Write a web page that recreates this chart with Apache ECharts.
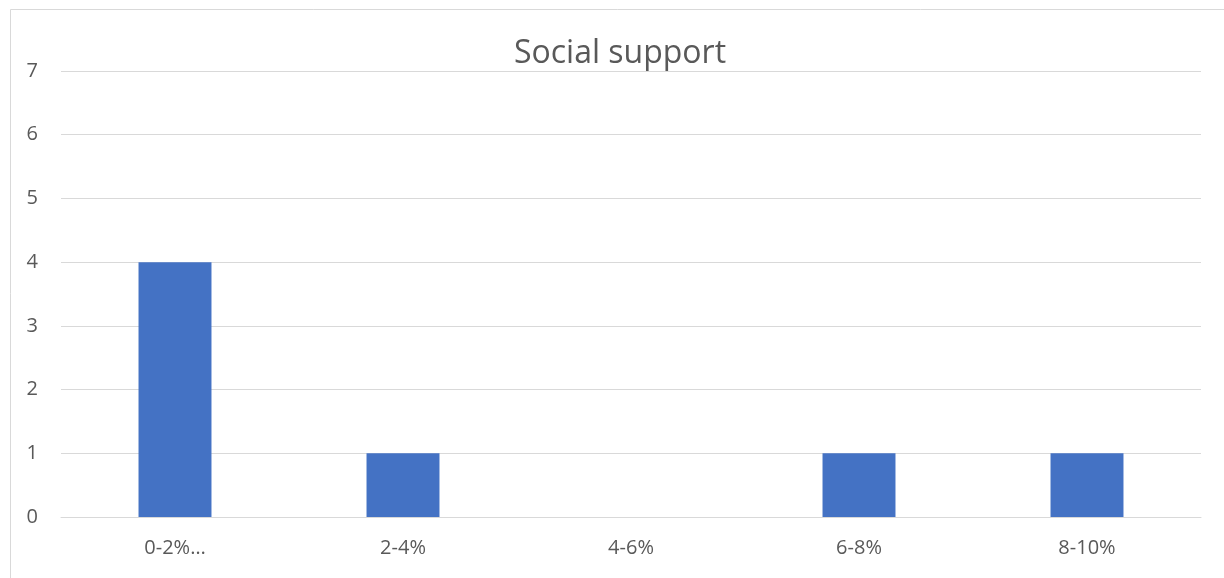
<!DOCTYPE html>
<html>
<head>
<meta charset="utf-8">
<script src="https://cdn.jsdelivr.net/npm/echarts@6/dist/echarts.min.js"></script>
<style>
html,body{margin:0;padding:0;background:#fff;}
#c{width:1224px;height:578px;}
</style>
</head>
<body>
<div id="c"></div>
<script>
const categories = ["0-2%…", "2-4%", "4-6%", "6-8%", "8-10%"];
const values = [4, 1, 0, 1, 1];
const yTicks = [0, 1, 2, 3, 4, 5, 6, 7];
const titleText = "Social support";

const chart = echarts.init(document.getElementById('c'), null, {renderer: 'canvas'});
const font = "'Open Sans', 'Noto Sans', sans-serif";
chart.setOption({
  animation: false,
  title: {
    text: titleText,
    left: 615, top: 33, textAlign: 'center',
    textStyle: {fontFamily: font, fontSize: 32, fontWeight: 'normal', color: '#595959'}
  },
  graphic: [
    {type: 'line', shape: {x1: 10.5, y1: 9.5, x2: 1224, y2: 9.5}, style: {stroke: '#d9d9d9', lineWidth: 1}},
    {type: 'line', shape: {x1: 10.5, y1: 9.5, x2: 10.5, y2: 578}, style: {stroke: '#d9d9d9', lineWidth: 1}}
  ],
  grid: {left: 61, right: 23, top: 71, bottom: 61, containLabel: false},
  xAxis: {
    type: 'category',
    data: categories,
    axisLine: {show: true, lineStyle: {color: '#d9d9d9', width: 1}},
    axisTick: {show: false},
    axisLabel: {fontFamily: font, fontSize: 20, color: '#595959', margin: 21}
  },
  yAxis: {
    type: 'value',
    min: 0, max: 7, interval: 1,
    axisLine: {show: false},
    axisTick: {show: false},
    splitLine: {lineStyle: {color: '#d9d9d9', width: 1}},
    axisLabel: {fontFamily: font, fontSize: 20, color: '#595959', margin: 23,
      formatter: v => yTicks.includes(v) ? String(v) : ''}
  },
  series: [{
    type: 'bar',
    data: values,
    barCategoryGap: '68%',
    itemStyle: {color: '#4472c4'}
  }]
});
</script>
</body>
</html>
